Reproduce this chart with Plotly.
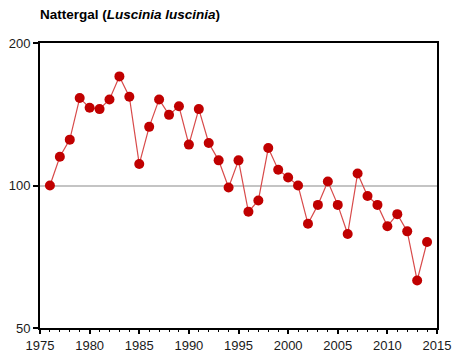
import plotly.graph_objects as go

# Nightingale (Luscinia luscinia) population index, 1976 = 100
years = list(range(1976, 2015))
index = [100, 115, 125, 153, 146, 145, 152, 170, 154, 111,
         133, 152, 141, 147, 122, 145, 123, 113, 99, 113,
         88, 93, 120, 108, 104, 100, 83, 91, 102, 91,
         79, 106, 95, 91, 82, 87, 80, 63, 76]

x_ticks = [1975, 1980, 1985, 1990, 1995, 2000, 2005, 2010, 2015]
y_ticks = [50, 100, 200]

fig = go.Figure()
fig.add_trace(go.Scatter(
    x=years, y=index, mode="lines+markers",
    line=dict(color="#d84a4a", width=1.2),
    marker=dict(color="#c00000", size=10, line=dict(width=0)),
    showlegend=False,
))

font_family = "Liberation Sans, Arial, sans-serif"

fig.update_layout(
    width=453, height=360,
    margin=dict(l=40, r=16, t=43, b=32),
    paper_bgcolor="white", plot_bgcolor="white",
    font=dict(family=font_family, size=13, color="#1a1a1a"),
    title=dict(
        text="<b>Nattergal (<i>Luscinia luscinia</i>)</b>",
        x=40 / 453, xanchor="left", xref="container",
        y=1 - 14 / 360, yanchor="middle", yref="container",
        font=dict(family=font_family, size=13.5, color="#000000"),
    ),
    xaxis=dict(
        range=[1975, 2015], tickvals=x_ticks, automargin=False,
        ticks="outside", ticklen=4, tickwidth=1.5, tickcolor="black",
        minor=dict(dtick=1, tick0=1975, ticks="outside", ticklen=2,
                   tickwidth=1, tickcolor="black", showgrid=False),
        showline=True, linecolor="black", linewidth=2, mirror=True,
        showgrid=False, zeroline=False,
    ),
    yaxis=dict(
        type="log", range=[1.69897, 2.30103], tickvals=y_ticks,
        ticktext=[str(v) for v in y_ticks], automargin=False,
        ticks="outside", ticklen=5, tickwidth=1.5, tickcolor="black",
        showline=True, linecolor="black", linewidth=2, mirror=True,
        showgrid=True, gridcolor="#c4c4c4", gridwidth=1.5, zeroline=False,
    ),
)

fig.write_html("out.html")
